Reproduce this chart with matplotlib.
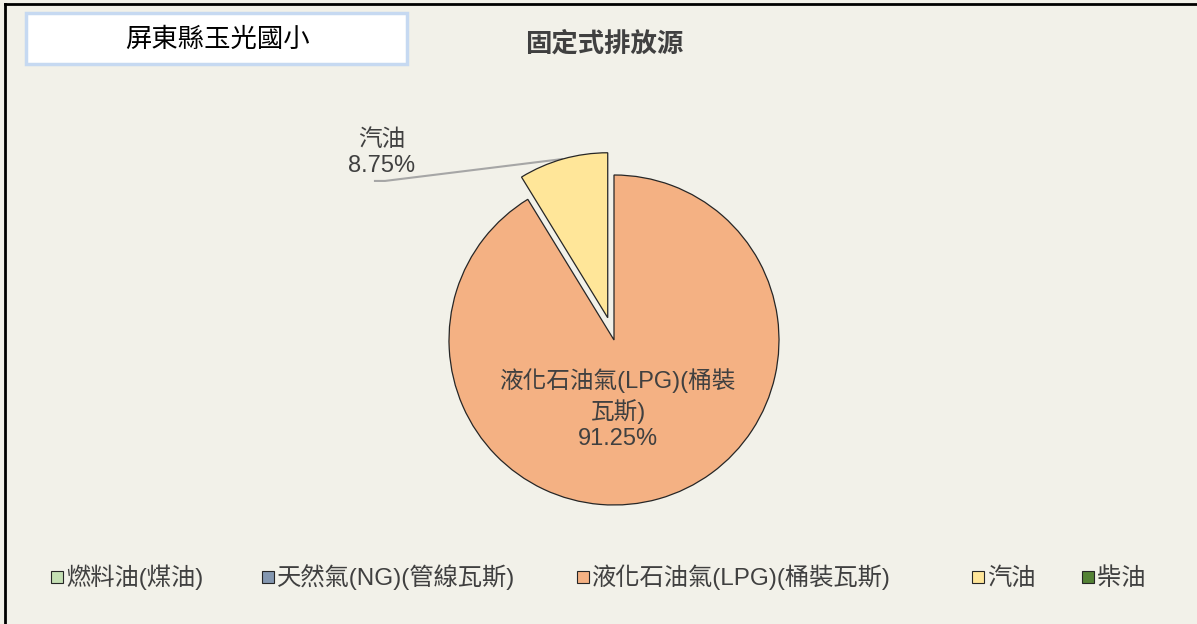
# 固定式排放源 pie chart

import numpy as np
import matplotlib.pyplot as plt
from matplotlib.patches import Rectangle
from matplotlib.lines import Line2D

plt.rcParams['font.family'] = ['Liberation Sans', 'Noto Sans CJK TC']

school = "屏東縣玉光國小"
title = "固定式排放源"
categories = ["燃料油(煤油)", "天然氣(NG)(管線瓦斯)", "液化石油氣(LPG)(桶裝瓦斯)", "汽油", "柴油"]
values = [0.0, 0.0, 91.25, 8.75, 0.0]
colors = ["#C5E0B4", "#8497B0", "#F4B183", "#FFE699", "#548235"]
explode_map = {"汽油": 0.14}

# legend square left edges in pixels (layout)
legend_x = [51, 262, 577, 972, 1082]

W, H = 1197, 624
bg = "#F2F1E9"
text_col = "#404040"

fig = plt.figure(figsize=(W / 100, H / 100), dpi=100)
fig.patch.set_facecolor(bg)

# pie axes, placed in pixels: centre (614, 340), radius 165
cx, cy, r_px, half = 614, 340, 165, 200
ax = fig.add_axes([(cx - half) / W, 1 - (cy + half) / H, 2 * half / W, 2 * half / H])
ax.set_facecolor("none")

# only non-zero slices get drawn; the legend still lists all categories
idx = [i for i, v in enumerate(values) if v > 0]
wedges, _ = ax.pie([values[i] for i in idx],
                   colors=[colors[i] for i in idx],
                   explode=[explode_map.get(categories[i], 0) for i in idx],
                   startangle=90, counterclock=False, radius=1,
                   wedgeprops=dict(edgecolor="#262626", linewidth=0.9))
lim = half / r_px
ax.set_xlim(-lim, lim)
ax.set_ylim(-lim, lim)
ax.set_aspect("equal")
ax.axis("off")

total = sum(values)
for w, i in zip(wedges, idx):
    pct = values[i] / total * 100
    mid = np.deg2rad((w.theta1 + w.theta2) / 2)
    c = w.center
    if categories[i] == "汽油":
        tip = (c[0] + np.cos(mid), c[1] + np.sin(mid))
        ly = 0.964
        ax.plot([-1.455, -1.388, tip[0]], [ly, ly, tip[1]], color="#A6A6A6", lw=1.5,
                zorder=0, solid_capstyle="butt", clip_on=False)
        ax.text(-1.406, 0.99, f"{categories[i]}\n{pct:.2f}%", ha="center", va="bottom",
                fontsize=17, color=text_col, linespacing=1.2)
    else:
        ax.text(0.025, -0.42, "液化石油氣(LPG)(桶裝\n瓦斯)\n" + f"{pct:.2f}%", ha="center",
                va="center", fontsize=17, color=text_col, linespacing=1.28)

# school name box
fig.add_artist(Rectangle((26 / W, 1 - 64 / H), (407 - 26) / W, (64 - 13) / H,
                         transform=fig.transFigure, facecolor="white",
                         edgecolor="#C6D9F1", linewidth=2.5))
fig.text(218 / W, 1 - 40 / H, school, ha="center", va="center", fontsize=19, color="black")
fig.text(604 / W, 1 - 44 / H, title, ha="center", va="center", fontsize=19,
         fontweight="bold", color=text_col)

# frame lines (left and top)
fig.add_artist(Line2D([5 / W, 5 / W], [0, 1 - 4 / H], transform=fig.transFigure,
                      color="black", lw=2))
fig.add_artist(Line2D([5 / W, 1], [1 - 4 / H, 1 - 4 / H], transform=fig.transFigure,
                      color="black", lw=2))

# legend: square + label for every category
sq = 12
ly_px = 577
for lab, col, x0 in zip(categories, colors, legend_x):
    fig.add_artist(Rectangle((x0 / W, 1 - (ly_px + sq / 2) / H), sq / W, sq / H,
                             transform=fig.transFigure, facecolor=col,
                             edgecolor="#262626", linewidth=0.8))
    fig.text((x0 + sq + 3) / W, 1 - (ly_px + 8) / H, lab, ha="left", va="baseline",
             fontsize=17.5, color=text_col)

fig.savefig("out.png", dpi=100, facecolor=bg)
